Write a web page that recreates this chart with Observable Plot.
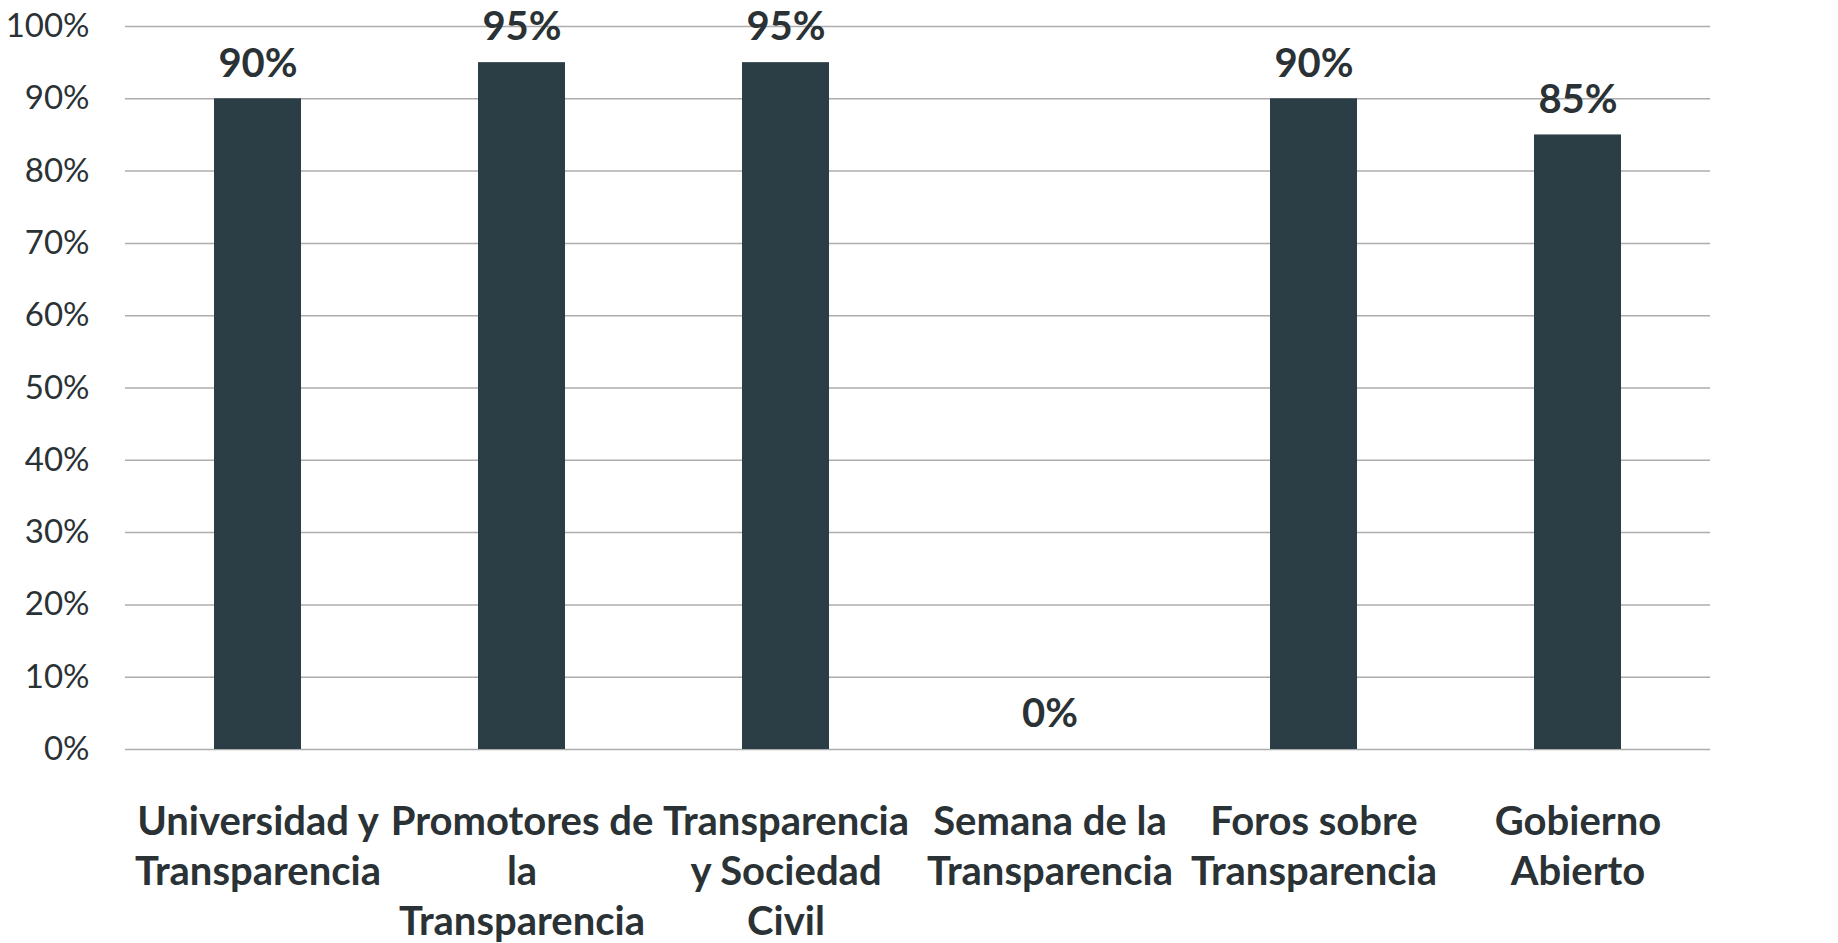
<!DOCTYPE html>
<html>
<head>
<meta charset="utf-8">
<script src="https://cdn.jsdelivr.net/npm/d3@7"></script>
<script src="https://cdn.jsdelivr.net/npm/@observablehq/plot@0.6"></script>
<style>
  html, body { margin: 0; padding: 0; background: #ffffff; }
  #chart svg { display: block; }
</style>
</head>
<body>
<div id="chart"></div>
<script>
// Categories (x axis) and their wrapped tick labels
const categories = [
  "Universidad y Transparencia",
  "Promotores de la Transparencia",
  "Transparencia y Sociedad Civil",
  "Semana de la Transparencia",
  "Foros sobre Transparencia",
  "Gobierno Abierto"
];
const categoryLabels = [
  "Universidad y\nTransparencia",
  "Promotores de\nla\nTransparencia",
  "Transparencia\ny Sociedad\nCivil",
  "Semana de la\nTransparencia",
  "Foros sobre\nTransparencia",
  "Gobierno\nAbierto"
];
// Series values (share, 0..1)
const values = [0.90, 0.95, 0.95, 0.00, 0.90, 0.85];
// Y tick values
const yTicks = [0, 0.1, 0.2, 0.3, 0.4, 0.5, 0.6, 0.7, 0.8, 0.9, 1.0];

const data = categories.map((c, i) => ({cat: c, value: values[i]}));
const labelOf = new Map(categories.map((c, i) => [c, categoryLabels[i]]));
const pct = v => Math.round(v * 100) + "%";

const chart = Plot.plot({
  width: 1838,
  height: 943,
  marginTop: 26,
  marginBottom: 194,
  marginLeft: 125,
  marginRight: 128,
  style: {fontFamily: "Lato, 'Open Sans', sans-serif", color: "#2a3235", background: "#ffffff"},
  x: {domain: categories, paddingInner: 0.67, paddingOuter: 0.335, label: null},
  y: {domain: [0, 1], label: null},
  marks: [
    Plot.gridY(yTicks, {stroke: "#8a8a8a", strokeOpacity: 0.7, strokeWidth: 1.5}),
    Plot.barY(data, {x: "cat", y: "value", fill: "#2b3e45"}),
    Plot.text(data, {x: "cat", y: "value", text: d => pct(d.value), dy: -35, fontSize: 40, fontWeight: "bold"}),
    Plot.axisY({ticks: yTicks, tickFormat: pct, tickSize: 0, tickPadding: 36, fontSize: 33, label: null}),
    Plot.axisX({tickSize: 0, tickPadding: 50, fontSize: 40, fontWeight: "bold", lineHeight: 1.25, lineAnchor: "top",
      tickFormat: d => labelOf.get(d), label: null})
  ]
});
document.getElementById("chart").append(chart);
</script>
</body>
</html>
